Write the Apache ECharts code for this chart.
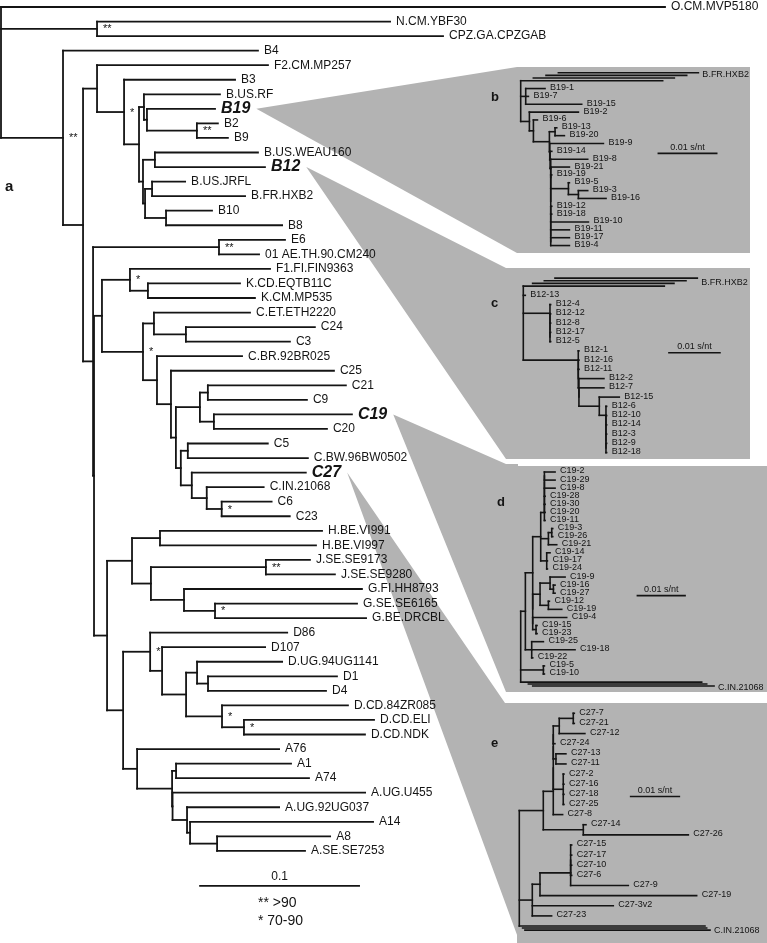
<!DOCTYPE html>
<html>
<head>
<meta charset="utf-8">
<script src="https://cdn.jsdelivr.net/npm/echarts@6.0.0/dist/echarts.min.js"></script>
<style>
html,body{margin:0;padding:0;background:#fff;}
#chart{width:767px;height:943px;}
</style>
</head>
<body>
<div id="chart"></div>
<script>
// ================= DATA =================
// Panel a: main tree (Newick, branch lengths in substitutions/site, internal labels = bootstrap class)
const mainTree =
  "(O.CM.MVP5180:0.4176,(N.CM.YBF30:0.1843,CPZ.GA.CPZGAB:0.2176)**:0.0604," +
  "(B4:0.1226,(" +
    "(F2.CM.MP257:0.1075,(B3:0.0698,(" +
      "(B.US.RF:0.0478,(B19:0.0428,(B2:0.0132,B9:0.0195)**:0.0314):0.0019):0.0031," +
      "((B.US.WEAU160:0.0648,B12:0.0692):0.0075,((B.US.JRFL:0.0208,B.FR.HXB2:0.0585):0.0044,(B10:0.0289,B8:0.0730):0.0132):0.0013):0.0025" +
    "):0.0094)*:0.0170):0.0088," +
    "((E6:0.0415,01 AE.TH.90.CM240:0.0252)**:0.0792,(" +
      "((F1.FI.FIN9363:0.0881,(K.CD.EQTB11C:0.0579,K.CM.MP535:0.0673):0.0113)*:0.0176," +
        "((C.ET.ETH2220:0.0604,(C24:0.0811,C3:0.0654):0.0201):0.0069," +
        "(C.BR.92BR025:0.0535,(C25:0.1025,(" +
          "((C21:0.0868,C9:0.0623):0.0050,(C19:0.0868,C20:0.0711):0.0088):0.0151," +
          "((C5:0.0503,C.BW.96BW0502:0.0755):0.0044,(C27:0.0717,(C.IN.21068:0.0358,(C6:0.0314,C23:0.0428)*:0.0094):0.0094):0.0069):0.0031" +
        "):0.0031):0.0088):0.0088)*:0.0258):0.0050," +
      "(((H.BE.VI991:0.1019,H.BE.VI997:0.0981):0.0176,((J.SE.SE9173:0.0277,J.SE.SE9280:0.0434)**:0.0723,(G.FI.HH8793:0.1119,(G.SE.SE6165:0.0893,G.BE.DRCBL:0.0950)*:0.0195):0.0208):0.0119):0.0157," +
        "((D86:0.0862,(D107:0.0648,((D.UG.94UG1141:0.0535,(D1:0.0811,D4:0.0742):0.0069):0.0069,(D.CD.84ZR085:0.0792,(D.CD.ELI:0.0818,D.CD.NDK:0.0761)*:0.0138)*:0.0226):0.0151):0.0075)*:0.0170," +
        "(A76:0.0893,((A1:0.0723,A74:0.0836):0.0025,(A.UG.U455:0.1211,(A.UG.92UG037:0.0579,(A14:0.1151,(A8:0.0711,A.SE.SE7253:0.0553):0.0170):0.0019):0.0091):0.0003):0.0220):0.0088" +
      "):0.0101):0.0082" +
    "):0.0006):0.0063" +
  "):0.0126)**:0.0390);";

const mainHighlighted = ['B19', 'B12', 'C19', 'C27'];
const mainScaleBar = 0.1;
const mainScaleText = '0.1';
const supportLegend = ['** >90', '* 70-90'];
const panelLetters = ['a', 'b', 'c', 'd', 'e'];
const insetSources = ['B19', 'B12', 'C19', 'C27'];
const insetScaleBar = 0.01;
const insetScaleText = '0.01 s/nt';

// Panels b-e: clone trees (Newick, substitutions/site)
const panelBTree =
  "(B.FR.HXB2:0.02434,(B19-1:0.00331,B19-7:0.00046,B19-15:0.0096):0.00086," +
  "(B19-2:0.0084,(B19-6:0.00069,((B19-13:0.00029,B19-20:0.0016):0.00097," +
  "(B19-9:0.0092,(B19-14:0.00029," +
  "(B19-8:0.00634,(B19-21:0.0032,(B19-19:0.00017,((B19-5:0.00017,(B19-3:0.0016,B19-16:0.00474):0.00171):0.00303," +
  "(B19-12:0.00017,(B19-18:0.00017,(B19-10:0.00646,(B19-11:0.0032,(B19-17:0.0032,B19-4:0.0032):0):0):0):0):0):0):0):0):0.00011" +
  "):0.00006):0.00006):0.00274):0.00069):0.00149);";

const panelCTree =
  "(B.FR.HXB2:0.02765,B12-13:0.00039," +
  "(B12-4:0.00013,(B12-12:0.00013,(B12-8:0.00013,(B12-17:0.00013,B12-5:0.00013):0):0):0):0.00523," +
  "(B12-1:0.00013,(B12-16:0.00013,(B12-11:0.00013," +
  "(B12-2:0.0049,(B12-7:0.0049,(B12-15:0.00392," +
  "(B12-6:0.00013,(B12-10:0.00013,(B12-14:0.00013,(B12-3:0.00013,(B12-9:0.00013,B12-18:0.00013):0):0):0):0)" +
  ":0.00131):0.00399):0):0.00013):0):0):0.01078);";

const panelDTree =
  "(((" +
  "(((((((C19-2:0.00224,C19-29:0.00224):0,C19-8:0.00224):0,C19-28:0.00014):0,C19-30:0.00014):0,C19-20:0.00014):0,C19-11:0.00014):0.00077," +
  "((C19-3:0.00021,C19-26:0.00021):0.0007,C19-21:0.00175):0.00161," +
  "(C19-14:0.0007,C19-17:0.00014,C19-24:0.00014):0.00126):0.00168," +
  "(((C19-9:0.00315,(C19-16:0.00035,C19-27:0.00035):0.0007):0.0021,(C19-12:0.00021,C19-19:0.0028):0.00175):0.00154," +
  "(C19-4:0.00713,(C19-15:0.00021,C19-23:0.00021):0.0007):0):0" +
  "):0.00154," +
  "(C19-25:0.00245,C19-18:0.00909,C19-22:0.00021):0.00133):0.00098," +
  "(C19-5:0.00021,C19-10:0.00021):0.00476," +
  "C.IN.21068:0.03797);";

const panelETree =
  "((" +
  "((((((C27-7:0.00021,C27-21:0.00021):0.00288,C27-12:0.00527):0.00123,C27-24:0.00034):0," +
  "(C27-13:0.00205,C27-11:0.00205):0.00055):0," +
  "(C27-2:0.00014,C27-16:0.00014,C27-18:0.00014,C27-25:0.00014):0.00205):0,C27-8:0.00192):0.00205," +
  "(C27-14:0.00055,C27-26:0.02158):0.00822):0.00493," +
  "((((C27-15:0.00021,C27-17:0.00021,C27-10:0.00021,C27-6:0.00021):0,C27-9:0.01185):0.0063,C27-19:0.03219):0.00158," +
  "C27-3v2:0.01664,C27-23:0.00397):0.00267," +
  "C.IN.21068:0.03815);";

// stacked long outgroup branches: [row, start, end]
const panelBOutgroupBars = [[-1.02, 0.00646, 0.03046], [-0.68, 0.00434, 0.02846], [-0.34, 0.00217, 0.02634]];
const panelCOutgroupBars = [[-0.86, 0.00621, 0.03412], [-0.58, 0.00412, 0.0319], [-0.29, 0.00183, 0.02954]];
const panelDOutgroupBars = [[26.24, 0.00161, 0.03902], [26.49, 0.00252, 0.04056]];
const panelEOutgroupBars = [[21.2, 0.00068, 0.0385], [21.4, 0.00116, 0.03918]];
// outgroup label: [row, text]
const panelBOutgroupLabel = [-0.85, 'B.FR.HXB2'];
const panelCOutgroupLabel = [-0.43, 'B.FR.HXB2'];
const panelDOutgroupLabel = [26.7, 'C.IN.21068'];
const panelEOutgroupLabel = [21.45, 'C.IN.21068'];

// ================= LAYOUT (pixels / styling) =================
const FONT = "'Liberation Sans', Arial, Helvetica, sans-serif";
const GRAY = '#b3b3b3';
const INK = '#141414';
const gridLayout = [
  { rect: [0, 0, 767, 943], origin: [1, 7], ppu: 1590, ppr: 14.55 },
  { rect: [517, 67, 233, 186], origin: [520.7, 80.7], ppu: 5833, ppr: 7.85 },
  { rect: [506, 268, 244, 191], origin: [523.3, 286.1], ppu: 5100, ppr: 9.25 },
  { rect: [506, 466, 261, 226], origin: [520.7, 472], ppu: 4767, ppr: 8.08 },
  { rect: [517, 703, 250, 240], origin: [519.3, 713.3], ppu: 4867, ppr: 10.13 }
];
const wedgeTargets = [[[517, 67], [517, 253]], [[506, 268], [506, 459]], [[506, 464], [506, 692]], [[505, 703], [520, 943]]];
const scaleBarPos = [[0.1252, 60.41], [0.0236, 9.26], [0.02856, 7.2], [0.02448, 15.3], [0.02288, 8.22]];
const legendPos = [0.1616, 61.58, 62.82];
const letterPos = [[5, 187], [491, 97], [491, 303], [497, 502], [491, 743]];

// ================= TREE HELPERS =================
function parseNewick(str) {
  let i = 0;
  function node() {
    const n = { children: [], name: '', len: 0 };
    if (str[i] === '(') {
      i++;
      n.children.push(node());
      while (str[i] === ',') { i++; n.children.push(node()); }
      if (str[i] !== ')') throw new Error('Newick error at ' + i);
      i++;
    }
    let s = '';
    while (i < str.length && ',():;'.indexOf(str[i]) < 0) s += str[i++];
    n.name = s.trim();
    if (str[i] === ':') {
      i++;
      let t = '';
      while (i < str.length && ',();'.indexOf(str[i]) < 0) t += str[i++];
      n.len = parseFloat(t);
    }
    return n;
  }
  const root = node();
  root.len = 0;
  return root;
}
function layoutTree(root) {
  const leaves = [], internals = [], segs = [];
  let k = 0;
  (function walk(n, px) {
    n.x = px + n.len;
    if (!n.children.length) { n.row = k++; leaves.push(n); }
    else {
      n.children.forEach(c => walk(c, n.x));
      n.row = (n.children[0].row + n.children[n.children.length - 1].row) / 2;
      internals.push(n);
    }
  })(root, 0);
  (function seg(n, parent) {
    if (parent && n.x !== parent.x) segs.push([parent.x, n.row, n.x, n.row]);
    if (n.children.length) {
      const a = n.children[0].row, b = n.children[n.children.length - 1].row;
      if (a !== b) segs.push([n.x, a, n.x, b]);
      n.children.forEach(c => seg(c, n));
    }
  })(root, null);
  return { leaves, internals, segs };
}

function segSeries(gi, segs, lw) {
  return {
    type: 'custom', coordinateSystem: 'cartesian2d', xAxisIndex: gi, yAxisIndex: gi,
    data: segs, encode: { x: [0, 2], y: [1, 3] }, clip: false, silent: true, z: 3,
    renderItem: (p, api) => {
      const a = api.coord([api.value(0), api.value(1)]);
      const b = api.coord([api.value(2), api.value(3)]);
      return { type: 'line', shape: { x1: a[0], y1: a[1], x2: b[0], y2: b[1] },
        style: { stroke: INK, lineWidth: lw, lineCap: 'square' } };
    }
  };
}
function textSeries(gi, items) {
  return {
    type: 'custom', coordinateSystem: 'cartesian2d', xAxisIndex: gi, yAxisIndex: gi,
    data: items.map(t => [t.x, t.y]), encode: { x: 0, y: 1 }, clip: false, silent: true, z: 4,
    renderItem: (p, api) => {
      const t = items[p.dataIndex];
      const c = api.coord([api.value(0), api.value(1)]);
      return { type: 'text', x: c[0] + (t.dx || 0), y: c[1] + (t.dy || 0),
        style: { text: t.text, fill: INK, font: t.font, align: t.align || 'left', verticalAlign: 'middle' } };
    }
  };
}

// ================= BUILD =================
const series = [];
const grid = [], xAxis = [], yAxis = [];
gridLayout.forEach((g, i) => {
  const [l, t, w, h] = g.rect;
  grid.push({ left: l, top: t, width: w, height: h, show: i > 0, backgroundColor: GRAY, borderWidth: 0 });
  xAxis.push({ gridIndex: i, type: 'value', show: false, min: (l - g.origin[0]) / g.ppu, max: (l + w - g.origin[0]) / g.ppu });
  yAxis.push({ gridIndex: i, type: 'value', show: false, inverse: true, min: (t - g.origin[1]) / g.ppr, max: (t + h - g.origin[1]) / g.ppr });
});

// main tree
const hiFont = `italic bold 16px ${FONT}`;
const mainRoot = parseNewick(mainTree);
const mainL = layoutTree(mainRoot);
const mainSegs = mainL.segs.slice();
mainSegs.push([scaleBarPos[0][0], scaleBarPos[0][1], scaleBarPos[0][0] + mainScaleBar, scaleBarPos[0][1]]);
series.push(segSeries(0, mainSegs, 1.8));
const mainTexts = mainL.leaves.map(n => ({
  x: n.x, y: n.row, text: n.name, dx: 6,
  font: mainHighlighted.includes(n.name) ? hiFont : `12px ${FONT}`
}));
mainL.internals.filter(n => n.name).forEach(n => mainTexts.push({ x: n.x, y: n.row, text: n.name, dx: 6, dy: 0.5, font: `11px ${FONT}` }));
mainTexts.push({ x: scaleBarPos[0][0] + mainScaleBar / 2, y: scaleBarPos[0][1], dy: -9, text: mainScaleText, align: 'center', font: `12px ${FONT}` });
supportLegend.forEach((s, k) => mainTexts.push({ x: legendPos[0], y: legendPos[1 + k], text: s, font: `14px ${FONT}` }));
series.push(textSeries(0, mainTexts));

// insets
const insetTrees = [panelBTree, panelCTree, panelDTree, panelETree];
const insetBars = [panelBOutgroupBars, panelCOutgroupBars, panelDOutgroupBars, panelEOutgroupBars];
const insetOutLabels = [panelBOutgroupLabel, panelCOutgroupLabel, panelDOutgroupLabel, panelEOutgroupLabel];
insetTrees.forEach((tr, k) => {
  const gi = k + 1;
  const L = layoutTree(parseNewick(tr));
  const segs = L.segs.slice();
  insetBars[k].forEach(b => segs.push([b[1], b[0], b[2], b[0]]));
  const sb = scaleBarPos[gi];
  segs.push([sb[0], sb[1], sb[0] + insetScaleBar, sb[1]]);
  series.push(segSeries(gi, segs, 1.6));
  const outName = insetOutLabels[k][1];
  const texts = L.leaves.filter(n => n.name !== outName).map(n => ({ x: n.x, y: n.row, text: n.name, dx: 5, dy: -1, font: `9px ${FONT}` }));
  const outLeaf = L.leaves.find(n => n.name === outName);
  const outEnd = Math.max(outLeaf.x, ...insetBars[k].map(b => b[2]));
  texts.push({ x: outEnd, y: insetOutLabels[k][0], text: outName, dx: 4, font: `9px ${FONT}` });
  texts.push({ x: sb[0] + insetScaleBar / 2, y: sb[1], dy: -6, text: insetScaleText, align: 'center', font: `9px ${FONT}` });
  series.push(textSeries(gi, texts));
});

const chart = echarts.init(document.getElementById('chart'), null, { renderer: 'canvas' });
chart.setOption({ animation: false, backgroundColor: '#ffffff', grid, xAxis, yAxis, series });

// wedges linking highlighted leaves to inset panels + panel letters
const measureCtx = document.createElement('canvas').getContext('2d');
function textWidth(t, f) { measureCtx.font = f; return measureCtx.measureText(t).width; }
const elements = [];
insetSources.forEach((name, k) => {
  const leaf = mainL.leaves.find(n => n.name === name);
  const p = chart.convertToPixel({ gridIndex: 0 }, [leaf.x, leaf.row]);
  const ax = p[0] + 6 + textWidth(name, hiFont) + 6, ay = p[1];
  const [t, b] = wedgeTargets[k];
  const inner = gridLayout[k + 1].rect[0] + 12;
  elements.push({ type: 'polygon', silent: true, z: 0,
    shape: { points: [[ax, ay], t, [inner, t[1]], [inner, b[1]], b] }, style: { fill: GRAY } });
});
panelLetters.forEach((s, k) => {
  elements.push({ type: 'text', silent: true, z: 5, x: letterPos[k][0], y: letterPos[k][1],
    style: { text: s, font: `bold ${k === 0 ? 15 : 13}px ${FONT}`, fill: INK, verticalAlign: 'middle' } });
});
chart.setOption({ graphic: { elements } });
</script>
</body>
</html>
